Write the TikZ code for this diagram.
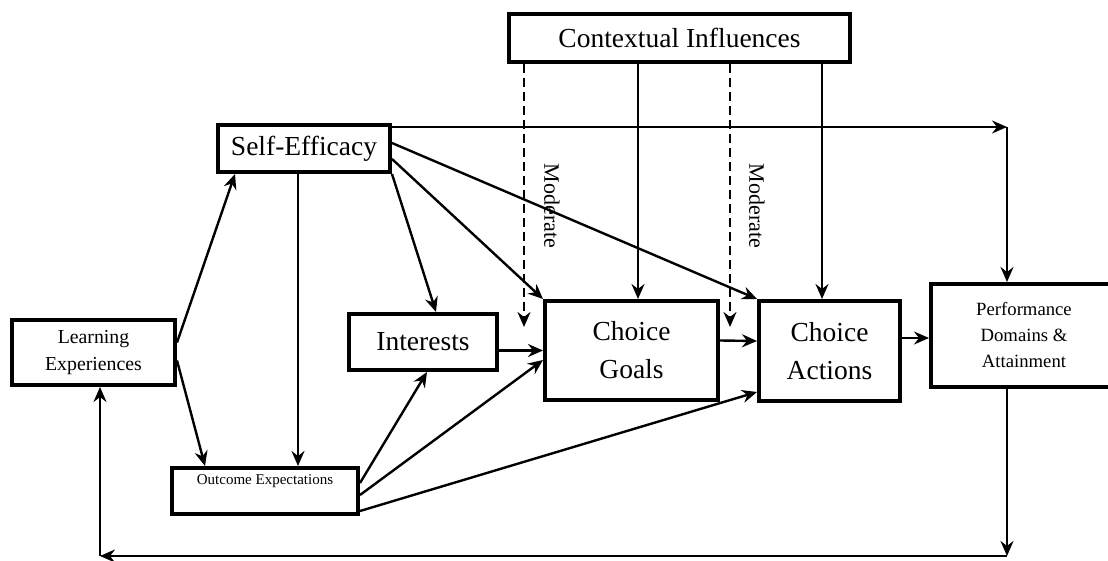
\documentclass[tikz,border=0pt]{standalone}
\usepackage{fontspec}
\setmainfont{Liberation Serif}
\usetikzlibrary{arrows.meta}

\begin{document}
\begin{tikzpicture}[x=1pt,y=-1pt]
      \tikzset{
        box/.style={draw,line width=4pt,fill=white,inner sep=0pt,align=center},
        big/.style={font=\fontsize{27.5}{38}\selectfont},
        link/.style={line width=2.4pt,-{Stealth[length=15pt,width=13pt,inset=5pt]}},
        moderates/.style={link,dash pattern=on 9pt off 5pt},
        modtext/.style={rotate=-90,font=\fontsize{22}{26}\selectfont}
      }
      \useasboundingbox (0,0) rectangle (1108,561);
      \clip (0,0) rectangle (1108,561);

      \node[box,big,minimum width=341pt,minimum height=48pt] (ctx) at (679.5,38) {Contextual Influences};
      \node[box,big,minimum width=172pt,minimum height=47pt] (se) at (304,148.5) {Self-Efficacy};
      \node[box,font=\fontsize{19.8}{27}\selectfont,minimum width=163pt,minimum height=65pt] (learn) at (93.5,352.5) {Learning\\Experiences};
      \node[box,big,minimum width=148pt,minimum height=56pt] (intr) at (423,342) {Interests};
      \node[box,big,minimum width=173pt,minimum height=99pt] (goals) at (631.5,350.5) {Choice\\Goals};
      \node[box,big,minimum width=141pt,minimum height=100pt] (act) at (829.5,351) {Choice\\Actions};
      \node[box,font=\fontsize{18.7}{26}\selectfont,minimum width=186pt,minimum height=103pt] (perf) at (1024,335.5) {Performance\\Domains \&\\Attainment};
      \node[box,font=\fontsize{15}{18}\selectfont,text depth=22pt,minimum width=186pt,minimum height=46pt] (outc) at (265,491) {Outcome Expectations};

      \node[modtext] (mod1txt) at (552,206) {Moderate};
      \node[modtext] (mod2txt) at (757,206) {Moderate};

      \coordinate (tr) at (1007,127);
      \coordinate (br) at (1007,556);
      \coordinate (bl) at (100,556);
      \coordinate (mod1) at (524,327);
      \coordinate (mod2) at (730,327);
      \path ([xshift=-6pt]se.south) coordinate (sdown)
            ([xshift=6.5pt]goals.north) coordinate (gin)
            ([xshift=-7.5pt]act.north) coordinate (ain);

      % learning experiences
      \draw[link] ([yshift=10pt]learn.east) -- ([xshift=19pt]se.south west);
      \draw[link] ([yshift=-8pt]learn.east) -- ([xshift=35pt]outc.north west);

      % self-efficacy
      \draw[link] (sdown) -- (sdown |- outc.north);
      \draw[link] (se.south east) -- ([xshift=13pt]intr.north);
      \draw[link] ([yshift=-10.5pt]se.east) -- (goals.north west);
      \draw[link] ([yshift=5.5pt]se.east) -- (act.north west);
      \draw[link] ([yshift=21.5pt]se.east) -- (tr);
      \draw[link] (tr) -- (tr |- perf.north);

      % outcome expectations
      \draw[link] ([yshift=8pt]outc.east) -- ([xshift=4pt]intr.south);
      \draw[link] ([yshift=-4pt]outc.east) -- ([yshift=-9.5pt]goals.west);
      \draw[link] ([yshift=-20pt]outc.east) -- ([yshift=-41pt]act.west);

      % main chain
      \draw[link] (intr.east |- goals.west) -- (goals.west);
      \draw[link] ([yshift=10pt]goals.east) -- ([yshift=10pt]act.west);
      \draw[link] ([yshift=13pt]act.east) -- ([yshift=-2.5pt]perf.west);

      % contextual influences
      \draw[link] (gin |- ctx.south) -- (gin);
      \draw[link] (ain |- ctx.south) -- (ain);
      \draw[moderates] (mod1 |- ctx.south) -- (mod1);
      \draw[moderates] (mod2 |- ctx.south) -- (mod2);

      % feedback loop
      \draw[link] (br |- perf.south) -- (br);
      \draw[link] (br) -- (bl);
      \draw[link] (bl) -- (learn.south -| bl);
\end{tikzpicture}
\end{document}
